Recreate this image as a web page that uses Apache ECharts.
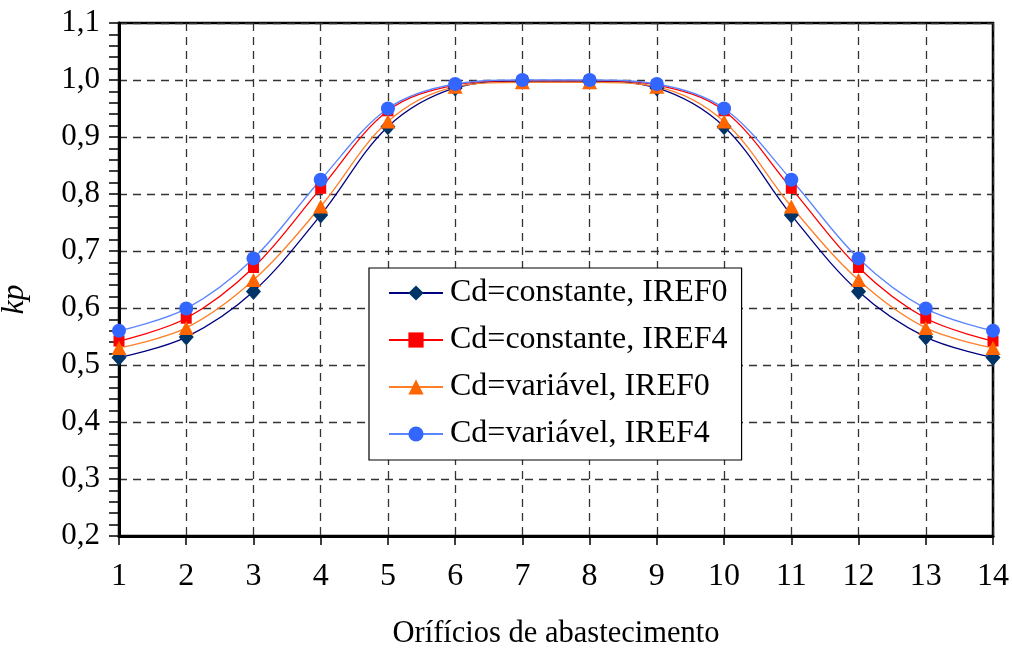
<!DOCTYPE html>
<html>
<head>
<meta charset="utf-8">
<script src="https://cdn.jsdelivr.net/npm/echarts@6/dist/echarts.min.js"></script>
<style>
  html, body { margin: 0; padding: 0; background: #fff; }
  #chart { width: 1012px; height: 652px; }
</style>
</head>
<body>
<div id="chart"></div>
<script>
var orificios = ['1','2','3','4','5','6','7','8','9','10','11','12','13','14'];

var cdConstIref0 = [0.513, 0.549, 0.629, 0.763, 0.918, 0.986, 0.998, 0.998, 0.986, 0.918, 0.763, 0.629, 0.549, 0.513];
var cdConstIref4 = [0.542, 0.582, 0.671, 0.810, 0.946, 0.991, 0.999, 0.999, 0.991, 0.946, 0.810, 0.671, 0.582, 0.542];
var cdVarIref0   = [0.530, 0.565, 0.649, 0.778, 0.927, 0.988, 0.996, 0.996, 0.988, 0.927, 0.778, 0.649, 0.565, 0.530];
var cdVarIref4   = [0.560, 0.599, 0.687, 0.825, 0.950, 0.993, 1.000, 1.000, 0.993, 0.950, 0.825, 0.687, 0.599, 0.560];

var FONT = '"Liberation Serif", "Times New Roman", serif';

function kp_series(name, data, symbol, size, fill, line){
    return {
        type: 'line',
        name: name,
        data: data,
        smooth: 0.35,
        symbol: symbol,
        symbolSize: size,
        showAllSymbol: true,
        itemStyle: { color: fill },
        lineStyle: { color: line, width: 1.3 },
        emphasis: { disabled: true },
        animation: false
    };
}

var chart = echarts.init(document.getElementById('chart'));

chart.setOption({
    animation: false,
    textStyle: { fontFamily: FONT, color: '#000' },
    grid: {
        left: 119, right: 19, top: 23, bottom: 116,
        show: true, borderColor: '#000', borderWidth: 2.5,
        containLabel: false,
        outerBoundsMode: 'none'
    },
    legend: {
        orient: 'vertical',
        left: 369, top: 268,
        padding: [9, 14, 10, 19],
        itemGap: 15,
        itemWidth: 54,
        itemHeight: 19,
        backgroundColor: '#fff',
        borderColor: '#000',
        borderWidth: 1.2,
        borderRadius: 0,
        textStyle: { fontFamily: FONT, fontSize: 32, color: '#000', padding: [0, 0, 0, 2] },
        data: ['Cd=constante, IREF0', 'Cd=constante, IREF4', 'Cd=variável, IREF0', 'Cd=variável, IREF4']
    },
    xAxis: {
        type: 'category',
        data: orificios,
        boundaryGap: false,
        name: 'Orífícios de abastecimento',
        nameLocation: 'middle',
        nameGap: 82,
        nameTextStyle: { fontFamily: FONT, fontSize: 30.5, color: '#000' },
        axisLine: { lineStyle: { color: '#000', width: 3 } },
        axisTick: { show: true, inside: false, length: 9, alignWithLabel: true, lineStyle: { color: '#000', width: 1.5 } },
        axisLabel: { fontFamily: FONT, fontSize: 32, color: '#000', margin: 25 },
        splitLine: { show: true, lineStyle: { color: '#333', width: 1.3, type: [8, 6] } }
    },
    yAxis: {
        type: 'value',
        min: 0.2, max: 1.1, interval: 0.1,
        name: 'kp',
        nameLocation: 'middle',
        nameGap: 88,
        nameRotate: 90,
        nameTextStyle: { fontFamily: FONT, fontSize: 32, fontStyle: 'italic', color: '#000', padding: [0, 40, 0, 0] },
        axisLine: { show: true, lineStyle: { color: '#000', width: 3 } },
        axisTick: { show: true, inside: false, length: 10, lineStyle: { color: '#000', width: 1.5 } },
        minorTick: { show: true, splitNumber: 5, length: 10, lineStyle: { color: '#000', width: 1.5 } },
        axisLabel: {
            fontFamily: FONT, fontSize: 31, color: '#000', margin: 19,
            formatter: function (v) { return v.toFixed(1).replace('.', ','); }
        },
        splitLine: { show: true, lineStyle: { color: '#333', width: 1.3, type: [8, 6] } }
    },
    series: [
        kp_series('Cd=constante, IREF0', cdConstIref0, 'diamond', [15, 17], '#003366', '#000080'),
        kp_series('Cd=constante, IREF4', cdConstIref4, 'rect', 11, '#FF0000', '#FF0000'),
        kp_series('Cd=variável, IREF0', cdVarIref0, 'triangle', [15, 14], '#FF6600', '#FF7F27'),
        kp_series('Cd=variável, IREF4', cdVarIref4, 'circle', 14, '#3366FF', '#5B85FF')
    ]
});
</script>
</body>
</html>
